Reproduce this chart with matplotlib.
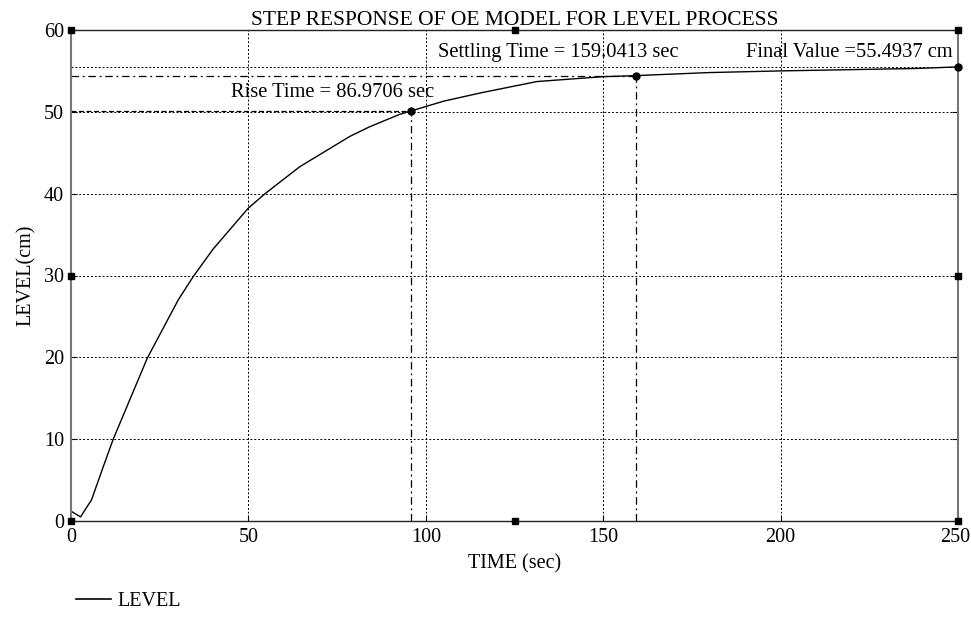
import matplotlib
matplotlib.use("Agg")
import matplotlib.pyplot as plt
import matplotlib.transforms as mtransforms
from matplotlib.lines import Line2D

# ---- data ----
time_s = [0, 2.7, 5.8, 8.9, 11.9, 21.5, 30.2, 34.5, 40.0, 49.9, 54.7, 64.5,
          78.6, 84.3, 92.7, 95.8, 105.0, 115.3, 131.3, 150.0, 159.2, 163.2,
          180.0, 199.8, 238.3, 250.0]
level_cm = [1.2, 0.5, 2.6, 6.4, 10.0, 19.9, 27.0, 29.9, 33.2, 38.2, 40.0, 43.3,
            47.0, 48.2, 49.7, 50.1, 51.3, 52.3, 53.7, 54.3, 54.42, 54.5,
            54.8, 55.0, 55.3, 55.4937]

rise_pt = (95.8, 50.1)
settle_pt = (159.2, 54.42)
final_pt = (250.0, 55.4937)

rise_label = "Rise Time = 86.9706 sec"
settle_label = "Settling Time = 159.0413 sec"
final_label = "Final Value =55.4937 cm"
title = "STEP RESPONSE OF OE MODEL FOR LEVEL PROCESS"
xticks = [0, 50, 100, 150, 200, 250]
yticks = [0, 10, 20, 30, 40, 50, 60]

plt.rcParams['font.family'] = ['Liberation Serif', 'DejaVu Serif']

fig = plt.figure(figsize=(9.71, 6.31), dpi=100)
ax = fig.add_axes([71/971, 1-521/631, (958-71)/971, (521-30)/631])

ax.set_xlim(0, 250)
ax.set_ylim(0, 60)
ax.set_xticks(xticks)
ax.set_yticks(yticks)
ax.tick_params(direction='in', length=4, width=0.8, labelsize=14.5,
               top=False, right=True, pad=5, colors='black')
ax.grid(True, linestyle=(0, (2, 2)), color='black', linewidth=0.7)

for s in ['left', 'right']:
    ax.spines[s].set_color('#777777')
    ax.spines[s].set_linewidth(1.5)
for s in ['top', 'bottom']:
    ax.spines[s].set_color('#222222')
    ax.spines[s].set_linewidth(1.0)

# reference lines
ax.plot([0, 250], [final_pt[1], final_pt[1]], linestyle=(0, (2, 2)),
        color='black', linewidth=0.7)
ax.plot([0, settle_pt[0]], [settle_pt[1], settle_pt[1]], linestyle=(0, (6, 3, 1.5, 3)),
        color='black', linewidth=0.9)
ax.plot([settle_pt[0], settle_pt[0]], [0, settle_pt[1]], linestyle=(0, (6, 3, 1.5, 3)),
        color='black', linewidth=0.9)
ax.plot([0, rise_pt[0]], [rise_pt[1], rise_pt[1]], linestyle=(0, (4, 2)),
        color='black', linewidth=0.9)
ax.plot([rise_pt[0], rise_pt[0]], [0, rise_pt[1]], linestyle=(0, (6, 3, 1.5, 3)),
        color='black', linewidth=0.9)

line, = ax.plot(time_s, level_cm, color='black', linewidth=1.0, label='LEVEL')

for p in (rise_pt, settle_pt, final_pt):
    ax.plot([p[0]], [p[1]], 'o', color='black', markersize=5, clip_on=False, zorder=5)

ax.text(45.1, 52.4, rise_label, fontsize=14.8, ha='left', va='center')
ax.text(103.4, 57.3, settle_label, fontsize=14.8, ha='left', va='center')
ax.text(248.6, 57.3, final_label, fontsize=14.8, ha='right', va='center')

# selection handles
hx = [0, 125, 250, 0, 250, 0, 125, 250]
hy = [60, 60, 60, 30, 30, 0, 0, 0]
ax.plot(hx, hy, 's', color='black', markersize=4.5, linestyle='none',
        clip_on=False, zorder=6)

ax.set_title(title, fontsize=15.5, pad=3)
ax.set_xlabel("TIME (sec)", fontsize=14.5, labelpad=5)
ax.set_ylabel("LEVEL(cm)", fontsize=14.5, labelpad=6)

# nudge the last x tick label inward so it stays within the figure
last = ax.get_xticklabels()[-1]
last.set_transform(last.get_transform() +
                   mtransforms.ScaledTranslation(-3/100, 0, fig.dpi_scale_trans))

fig.legend(handles=[Line2D([], [], color='black', linewidth=1.2)], labels=['LEVEL'],
           loc='center left', bbox_to_anchor=(58/971, 1-601/631), frameon=False,
           fontsize=14.5, handlelength=1.75, handletextpad=0.3)

fig.savefig("out.png", dpi=100)
